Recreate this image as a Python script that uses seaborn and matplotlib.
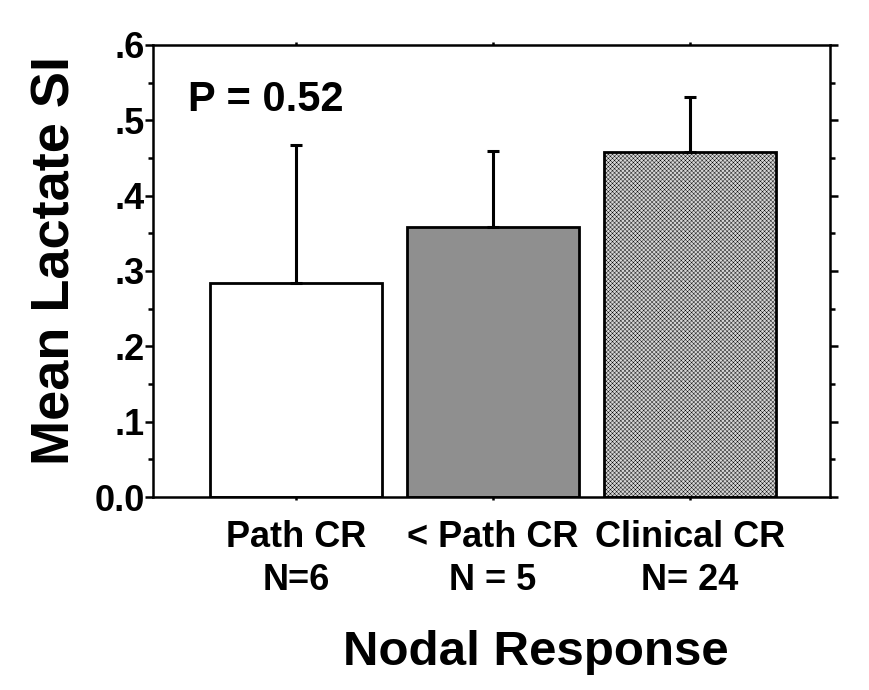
import matplotlib
matplotlib.use("Agg")
import matplotlib.pyplot as plt
import seaborn as sns
import pandas as pd
import numpy as np

categories = ["Path CR\nN=6", "< Path CR\nN = 5", "Clinical CR\nN= 24"]
means = [0.284, 0.359, 0.458]
upper_err = [0.183, 0.100, 0.073]
bar_colors = ["#ffffff", "#8f8f8f", "#d6d6d6"]
y_ticks = [0.0, 0.1, 0.2, 0.3, 0.4, 0.5, 0.6]
y_tick_labels = ["0.0", ".1", ".2", ".3", ".4", ".5", ".6"]

sns.set_theme(style="white")
plt.rcParams['font.family'] = ['Liberation Sans', 'DejaVu Sans']
plt.rcParams['hatch.linewidth'] = 0.3
plt.rcParams['hatch.color'] = '#c2c2c2'
for k in ['text.color', 'axes.labelcolor', 'xtick.color', 'ytick.color']:
    plt.rcParams[k] = 'black'

df = pd.DataFrame({"cat": categories, "mean": means})

fig = plt.figure(figsize=(8.7, 6.9), dpi=100)
ax = fig.add_axes([0.1759, 0.2797, 0.954 - 0.1759, 0.9348 - 0.2797])

sns.barplot(data=df, x="cat", y="mean", hue="cat", palette=bar_colors,
            width=0.873, edgecolor="black", linewidth=2.0, ax=ax,
            legend=False, errorbar=None, saturation=1)

for i, p in enumerate(ax.patches):
    if i == 2:
        p.set_hatch('xxxxxxxx')

xs = np.arange(len(categories))
ax.errorbar(xs, means, yerr=[np.zeros(len(means)), upper_err], fmt='none',
            ecolor='black', elinewidth=2.2, capsize=4.5, capthick=2.2, zorder=1)

ax.set_xlim(-0.726, 2.711)
ax.set_ylim(0, 0.6)
ax.set_yticks(y_ticks)
ax.set_yticks(np.arange(0.05, 0.6, 0.1), minor=True)
ax.set_yticklabels(y_tick_labels, fontsize=26, fontweight='bold')
ax.set_xticks(xs)
ax.set_xticklabels(categories, fontsize=26, fontweight='bold',
                   linespacing=1.3)

for s in ax.spines.values():
    s.set_visible(True)
    s.set_color('black')
    s.set_linewidth(1.8)

ax.tick_params(axis='y', which='major', direction='out', length=6, width=1.8,
               left=True, right=True, labelleft=True, labelright=False, pad=0)
ax.tick_params(axis='y', which='minor', direction='out', length=3.5, width=1.8,
               left=True, right=True)
ax.tick_params(axis='x', which='major', direction='out', length=2.5, width=1.8,
               bottom=True, top=True, pad=14)

ax.set_xlabel("Nodal Response", fontsize=35.5, fontweight='bold')
ax.xaxis.set_label_coords(0.566, -0.294)
ax.set_ylabel("Mean Lactate SI", fontsize=39, fontweight='bold')
ax.yaxis.set_label_coords(-0.107, 0.524)

ax.text(0.052, 0.878, "P = 0.52", transform=ax.transAxes, fontsize=30,
        fontweight='bold', va='center', ha='left')

fig.savefig("out.png", dpi=100)
